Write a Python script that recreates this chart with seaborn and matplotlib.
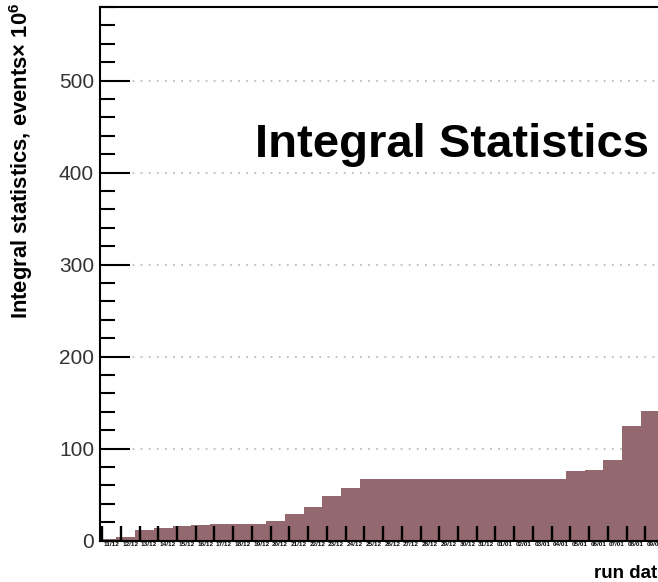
import numpy as np
import pandas as pd
import matplotlib
matplotlib.use("Agg")
import matplotlib.pyplot as plt
import seaborn as sns
from matplotlib.ticker import MultipleLocator

# ---- data ----
run_dates = [
    "11/12", "12/12", "13/12", "14/12", "15/12", "16/12", "17/12", "18/12",
    "19/12", "20/12", "21/12", "22/12", "23/12", "24/12", "25/12", "26/12",
    "27/12", "28/12", "29/12", "30/12", "31/12", "01/01", "02/01", "03/01",
    "04/01", "05/01", "06/01", "07/01", "08/01", "09/01",
]
integral_stats = [
    2, 3.5, 11, 13.5, 16, 17, 17.5, 17.5, 18, 21.5,
    29, 36.5, 48, 57.5, 67, 67, 67, 67, 67, 67,
    67, 67, 67, 67, 67, 75.5, 76.5, 88, 124, 141,
]
y_major_ticks = [0, 100, 200, 300, 400, 500]

# ---- style ----
sns.set_style("ticks")
plt.rcParams["font.family"] = ["Liberation Sans", "DejaVu Sans"]
plt.rcParams["mathtext.fontset"] = "custom"
plt.rcParams["mathtext.bf"] = "Liberation Sans:bold"
plt.rcParams["mathtext.rm"] = "Liberation Sans"
plt.rcParams["mathtext.default"] = "bf"
plt.rcParams["text.color"] = "black"
plt.rcParams["axes.labelcolor"] = "black"
plt.rcParams["xtick.color"] = "black"
plt.rcParams["ytick.color"] = "black"

W, H = 658, 582
bar_color = "#94686f"
tick_offset = 0.24
px_per_bin = 19.15
bin0_px = 97.55
ax_left_px, ax_right_px = 100, 664
xlabel_right_px = 668
ax_bottom_px, ax_top_px = 540.5, 7

fig = plt.figure(figsize=(W / 100, H / 100), dpi=100)
ax = fig.add_axes([ax_left_px / W, 1 - ax_bottom_px / H,
                   (ax_right_px - ax_left_px) / W,
                   (ax_bottom_px - ax_top_px) / H])
ax.set_axisbelow(False)

n = len(run_dates)
df = pd.DataFrame({"pos": np.arange(n) + 0.5, "value": integral_stats})
sns.histplot(data=df, x="pos", weights="value", bins=n, binrange=(0, n),
             element="step", fill=True, color=bar_color, alpha=1,
             linewidth=0, ax=ax)

ax.set_xlim((ax_left_px - bin0_px) / px_per_bin,
            (ax_right_px - bin0_px) / px_per_bin)
ax.set_ylim(0, 580)

# dotted horizontal grid (below bars)
for yv in y_major_ticks[1:]:
    ax.axhline(yv, color="#bdbdbd", lw=1.3, ls=(0, (1, 3.5)), zorder=0.5)

# y axis
ax.set_yticks(y_major_ticks)
ax.yaxis.set_minor_locator(MultipleLocator(20))
ax.tick_params(axis="y", which="major", direction="in", length=21.6,
               width=1.5, labelsize=15, labelcolor="#333333", pad=4.3,
               left=True, right=False)
ax.tick_params(axis="y", which="minor", direction="in", length=10.8,
               width=1.5, left=True, right=False)

# x axis: tick marks at bin edges (offset), labels between them
edge_pos = np.arange(n + 1) + tick_offset
label_pos = np.arange(n) + tick_offset + 0.5
ax.set_xticks(edge_pos)
ax.set_xticklabels([])
ax.set_xticks(label_pos, labels=run_dates, minor=True)
ax.tick_params(axis="x", which="major", direction="in", length=10.5,
               width=1.7, bottom=True, top=False)
ax.tick_params(axis="x", which="minor", length=0, labelsize=4.6, pad=1.2)
for lbl in ax.get_xticklabels(minor=True):
    lbl.set_fontweight("bold")

# spines
for side in ["left", "bottom", "top"]:
    ax.spines[side].set_visible(True)
    ax.spines[side].set_linewidth(1.5)
    ax.spines[side].set_color("black")
ax.spines["right"].set_visible(False)

# labels
ax_w_px = ax_right_px - ax_left_px
ax_h_px = ax_bottom_px - ax_top_px
ax.set_xlabel("run date", fontsize=13.5, fontweight="bold")
ax.xaxis.set_label_coords((xlabel_right_px - ax_left_px) / ax_w_px,
                          -(578 - ax_bottom_px) / ax_h_px)
ax.xaxis.label.set_horizontalalignment("right")
ax.xaxis.label.set_verticalalignment("baseline")

ax.set_ylabel("Integral statistics, events\u00d7 10$^{6}$", fontsize=15.8,
              fontweight="bold")
ax.yaxis.set_label_coords((21 - ax_left_px) / ax_w_px,
                          1 + (ax_top_px - 3) / ax_h_px)
ax.yaxis.label.set_horizontalalignment("right")
ax.yaxis.label.set_verticalalignment("center")

fig.text(255 / W, 1 - 157 / H, "Integral Statistics", fontsize=34,
         fontweight="bold", ha="left", va="baseline")

fig.savefig("out.png", dpi=100)
